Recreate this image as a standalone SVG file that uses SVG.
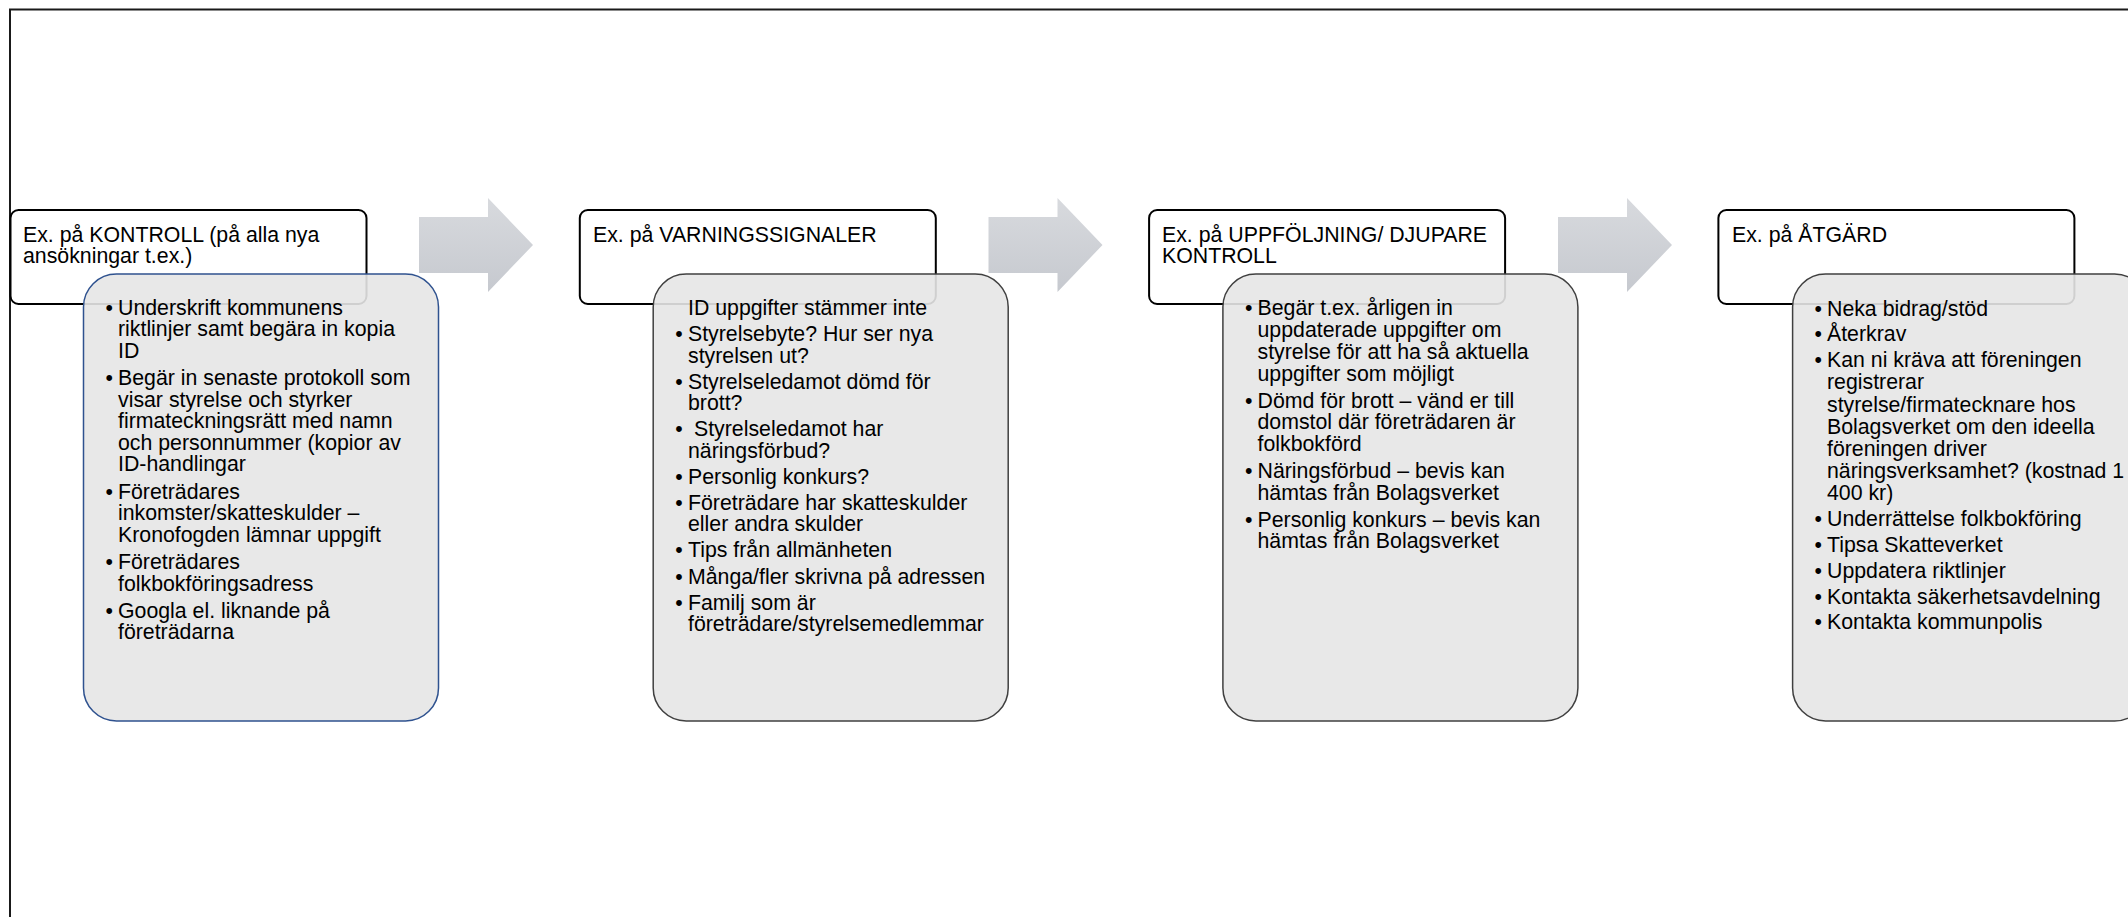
<svg xmlns="http://www.w3.org/2000/svg" width="2128" height="917" viewBox="0 0 2128 917">
<defs>
<linearGradient id="arrowFill" x1="0" y1="0" x2="0" y2="1">
<stop offset="0" stop-color="#d8dade"/>
<stop offset="1" stop-color="#c6c9cf"/>
</linearGradient>
<style>
text{font-family:"Liberation Sans",Arial,sans-serif;font-size:21.3px;fill:#000}
.hdr{fill:#fff;stroke:#000;stroke-width:2}
.lst{fill:#e5e5e5;fill-opacity:0.9;stroke:#404040;stroke-width:1.5}
.lst.blue{stroke:#2f528f}
.arrow{fill:url(#arrowFill)}
</style>
</defs>
<rect x="10" y="9.5" width="2200" height="1000" fill="#fff" stroke="#1a1a1a" stroke-width="2"/>
<g id="connectors">
<polygon class="arrow" points="419,217 488,217 488,198 533,245 488,292 488,273 419,273"/>
<polygon class="arrow" points="988.5,217 1057.5,217 1057.5,198 1102.5,245 1057.5,292 1057.5,273 988.5,273"/>
<polygon class="arrow" points="1558,217 1627,217 1627,198 1672,245 1627,292 1627,273 1558,273"/>
</g>
<g id="kontroll-header">
<rect class="hdr" x="10.5" y="210" width="356" height="94" rx="8"/>
<text x="23" y="241.8">Ex. på KONTROLL (på alla nya</text>
<text x="23" y="263.2">ansökningar t.ex.)</text>
</g>
<g id="kontroll-list">
<rect class="lst blue" x="83.5" y="274" width="355" height="447" rx="33"/>
<text x="105.5" y="314.5">•</text><text x="118" y="314.5">Underskrift kommunens</text>
<text x="118" y="336.1">riktlinjer samt begära in kopia</text>
<text x="118" y="357.7">ID</text>
<text x="105.5" y="384.9">•</text><text x="118" y="384.9">Begär in senaste protokoll som</text>
<text x="118" y="406.5">visar styrelse och styrker</text>
<text x="118" y="428.1">firmateckningsrätt med namn</text>
<text x="118" y="449.7">och personnummer (kopior av</text>
<text x="118" y="471.3">ID-handlingar</text>
<text x="105.5" y="498.5">•</text><text x="118" y="498.5">Företrädares</text>
<text x="118" y="520.1">inkomster/skatteskulder –</text>
<text x="118" y="541.7">Kronofogden lämnar uppgift</text>
<text x="105.5" y="568.9">•</text><text x="118" y="568.9">Företrädares</text>
<text x="118" y="590.5">folkbokföringsadress</text>
<text x="105.5" y="617.7">•</text><text x="118" y="617.7">Googla el. liknande på</text>
<text x="118" y="639.3">företrädarna</text>
</g>
<g id="varningssignaler-header">
<rect class="hdr" x="579.8" y="210" width="356" height="94" rx="8"/>
<text x="593" y="241.8">Ex. på VARNINGSSIGNALER</text>
</g>
<g id="varningssignaler-list">
<rect class="lst" x="653.2" y="274" width="355" height="447" rx="33"/>
<text x="688" y="315">ID uppgifter stämmer inte</text>
<text x="675.2" y="341.2">•</text><text x="688" y="341.2">Styrelsebyte? Hur ser nya</text>
<text x="688" y="362.5">styrelsen ut?</text>
<text x="675.2" y="388.7">•</text><text x="688" y="388.7">Styrelseledamot dömd för</text>
<text x="688" y="410">brott?</text>
<text x="675.2" y="436.2">•</text><text x="694" y="436.2">Styrelseledamot har</text>
<text x="688" y="457.5">näringsförbud?</text>
<text x="675.2" y="483.7">•</text><text x="688" y="483.7">Personlig konkurs?</text>
<text x="675.2" y="509.9">•</text><text x="688" y="509.9">Företrädare har skatteskulder</text>
<text x="688" y="531.2">eller andra skulder</text>
<text x="675.2" y="557.4">•</text><text x="688" y="557.4">Tips från allmänheten</text>
<text x="675.2" y="583.6">•</text><text x="688" y="583.6">Många/fler skrivna på adressen</text>
<text x="675.2" y="609.8">•</text><text x="688" y="609.8">Familj som är</text>
<text x="688" y="631.1">företrädare/styrelsemedlemmar</text>
</g>
<g id="uppfoljning-header">
<rect class="hdr" x="1149.1" y="210" width="356" height="94" rx="8"/>
<text x="1162" y="241.8">Ex. på UPPFÖLJNING/ DJUPARE</text>
<text x="1162" y="263.2">KONTROLL</text>
</g>
<g id="uppfoljning-list">
<rect class="lst" x="1222.9" y="274" width="355" height="447" rx="33"/>
<text x="1245" y="315.3">•</text><text x="1257.5" y="315.3">Begär t.ex. årligen in</text>
<text x="1257.5" y="337.1">uppdaterade uppgifter om</text>
<text x="1257.5" y="358.9">styrelse för att ha så aktuella</text>
<text x="1257.5" y="380.7">uppgifter som möjligt</text>
<text x="1245" y="407.5">•</text><text x="1257.5" y="407.5">Dömd för brott – vänd er till</text>
<text x="1257.5" y="429.3">domstol där företrädaren är</text>
<text x="1257.5" y="451.1">folkbokförd</text>
<text x="1245" y="477.9">•</text><text x="1257.5" y="477.9">Näringsförbud – bevis kan</text>
<text x="1257.5" y="499.7">hämtas från Bolagsverket</text>
<text x="1245" y="526.5">•</text><text x="1257.5" y="526.5">Personlig konkurs – bevis kan</text>
<text x="1257.5" y="548.3">hämtas från Bolagsverket</text>
</g>
<g id="atgard-header">
<rect class="hdr" x="1718.4" y="210" width="356" height="94" rx="8"/>
<text x="1732" y="241.8">Ex. på ÅTGÄRD</text>
</g>
<g id="atgard-list">
<rect class="lst" x="1792.6" y="274" width="355" height="447" rx="33"/>
<text x="1814.6" y="315.5">•</text><text x="1827" y="315.5">Neka bidrag/stöd</text>
<text x="1814.6" y="341.3">•</text><text x="1827" y="341.3">Återkrav</text>
<text x="1814.6" y="367.1">•</text><text x="1827" y="367.1">Kan ni kräva att föreningen</text>
<text x="1827" y="389.3">registrerar</text>
<text x="1827" y="411.5">styrelse/firmatecknare hos</text>
<text x="1827" y="433.7">Bolagsverket om den ideella</text>
<text x="1827" y="455.9">föreningen driver</text>
<text x="1827" y="478.1">näringsverksamhet? (kostnad 1</text>
<text x="1827" y="500.3">400 kr)</text>
<text x="1814.6" y="526.1">•</text><text x="1827" y="526.1">Underrättelse folkbokföring</text>
<text x="1814.6" y="551.9">•</text><text x="1827" y="551.9">Tipsa Skatteverket</text>
<text x="1814.6" y="577.7">•</text><text x="1827" y="577.7">Uppdatera riktlinjer</text>
<text x="1814.6" y="603.5">•</text><text x="1827" y="603.5">Kontakta säkerhetsavdelning</text>
<text x="1814.6" y="629.3">•</text><text x="1827" y="629.3">Kontakta kommunpolis</text>
</g>
</svg>
